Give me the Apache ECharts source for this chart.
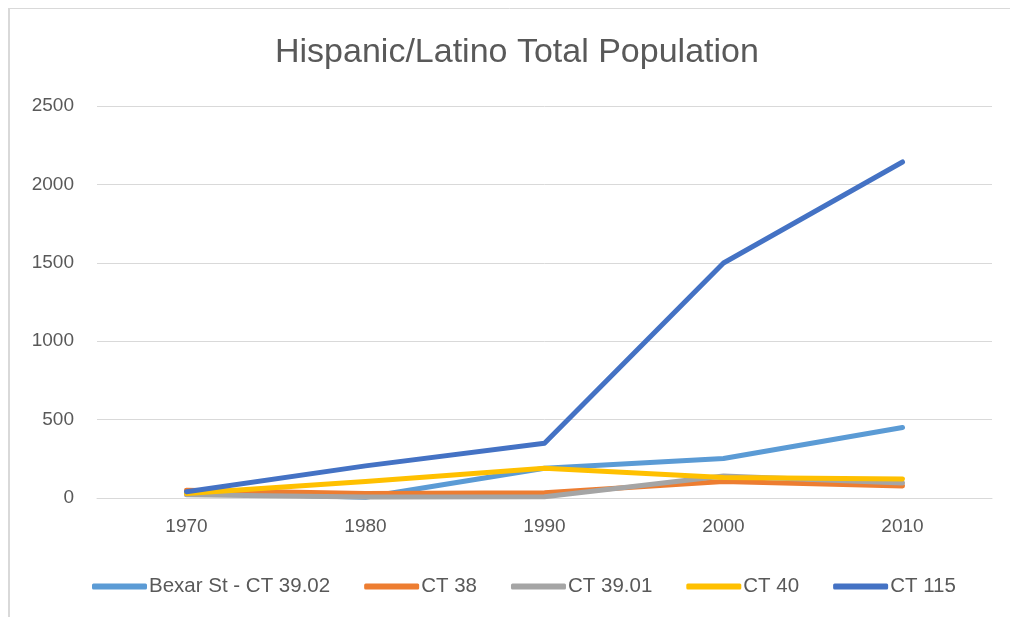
<!DOCTYPE html>
<html>
<head>
<meta charset="utf-8">
<script src="https://cdn.jsdelivr.net/npm/echarts@6/dist/echarts.min.js"></script>
<style>
  html, body { margin: 0; padding: 0; background: #ffffff; }
  #chart { width: 1010px; height: 617px; }
</style>
</head>
<body>
<div id="chart"></div>
<script>
// Census years on the category axis
const years = ['1970', '1980', '1990', '2000', '2010'];

// Hispanic/Latino population per census tract
const bexarSt3902 = [35, 5, 190, 252, 450];
const ct38 = [50, 28, 33, 105, 77];
const ct3901 = [20, 7, 8, 140, 95];
const ct40 = [28, 105, 190, 130, 121];
const ct115 = [40, 205, 349, 1499, 2143];

// Value-axis ticks
const yTicks = [0, 500, 1000, 1500, 2000, 2500];

const names = ['Bexar St - CT 39.02', 'CT 38', 'CT 39.01', 'CT 40', 'CT 115'];
const values = [bexarSt3902, ct38, ct3901, ct40, ct115];
const colors = ['#5B9BD5', '#ED7D31', '#A5A5A5', '#FFC000', '#4472C4'];

const fontFamily = '"Liberation Sans", Arial, sans-serif';
const textColor = '#595959';

const chart = echarts.init(document.getElementById('chart'), null, { renderer: 'canvas' });

chart.setOption({
  animation: false,
  backgroundColor: '#ffffff',
  title: {
    text: 'Hispanic/Latino Total Population',
    left: 270,
    top: 31,
    textStyle: { fontFamily, fontSize: 34, fontWeight: 'normal', color: textColor }
  },
  graphic: [
    { type: 'line', shape: { x1: 9, y1: 8.5, x2: 1010, y2: 8.5 }, style: { stroke: '#d9d9d9', lineWidth: 1 } },
    { type: 'line', shape: { x1: 9, y1: 8, x2: 9, y2: 617 }, style: { stroke: '#d9d9d9', lineWidth: 2 } }
  ],
  legend: {
    left: 87,
    top: 571,
    itemWidth: 55,
    itemHeight: 6,
    itemGap: 34,
    icon: 'roundRect',
    textStyle: { fontFamily, fontSize: 20.5, color: textColor, padding: [0, 0, 0, -3] },
    data: names
  },
  grid: { left: 97, right: 18, top: 106, bottom: 119, containLabel: false },
  xAxis: {
    type: 'category',
    data: years,
    boundaryGap: true,
    axisLine: { show: true, lineStyle: { color: '#d9d9d9', width: 1 } },
    axisTick: { show: false },
    axisLabel: { fontFamily, fontSize: 19, color: textColor, margin: 19 }
  },
  yAxis: {
    type: 'value',
    min: yTicks[0],
    max: yTicks[yTicks.length - 1],
    interval: yTicks[1] - yTicks[0],
    axisLine: { show: false },
    axisTick: { show: false },
    axisLabel: { fontFamily, fontSize: 19, color: textColor, margin: 23, formatter: (v) => String(v) },
    splitLine: { lineStyle: { color: '#d9d9d9', width: 1 } }
  },
  series: names.map((name, i) => ({
    name,
    type: 'line',
    data: values[i],
    showSymbol: false,
    symbol: 'none',
    itemStyle: { color: colors[i] },
    lineStyle: { color: colors[i], width: 5, cap: 'round', join: 'round' },
    z: 2 + i
  }))
});
</script>
</body>
</html>
